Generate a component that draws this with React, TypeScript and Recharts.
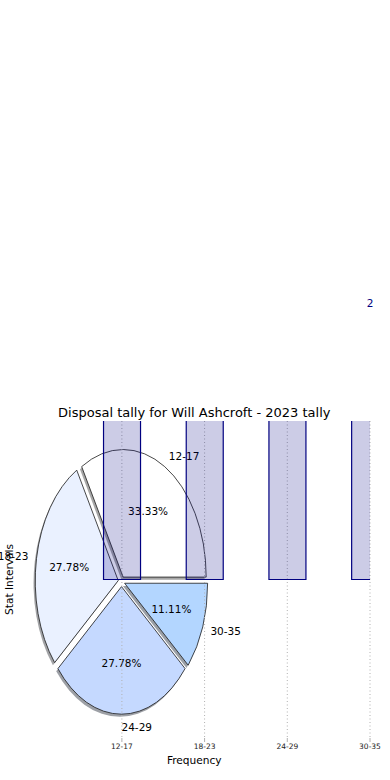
import {
  BarChart,
  Bar,
  XAxis,
  YAxis,
  CartesianGrid,
  LabelList,
  Label,
  PieChart,
  Pie,
  Cell,
} from "recharts";

const CATEGORIES = ["12-17", "18-23", "24-29", "30-35"];
const COUNTS = [6, 5, 5, 2];
const PIE_COLORS = ["#ffffff", "#eaf1ff", "#c5d9ff", "#b3d6ff"];
const X_TICKS = [0, 1, 2, 3];

const barData = CATEGORIES.map((name, i) => ({ pos: i, name, count: COUNTS[i] }));
const pieData = CATEGORIES.map((name, i) => ({ name, value: COUNTS[i] }));

const FONT = "'DejaVu Sans', sans-serif";
const RAD = Math.PI / 180;
// pie shares the bar axes, which have unequal aspect -> it comes out as an ellipse
const Y_STRETCH = 1.537;
const EXPLODE = 0.04;

function explodedCenter(cx: number, cy: number, rx: number, ry: number, mid: number) {
  return [cx + EXPLODE * rx * Math.cos(mid * RAD), cy - EXPLODE * ry * Math.sin(mid * RAD)];
}

function wedgePath(ox: number, oy: number, rx: number, ry: number, a0: number, a1: number) {
  const x0 = ox + rx * Math.cos(a0 * RAD);
  const y0 = oy - ry * Math.sin(a0 * RAD);
  const x1 = ox + rx * Math.cos(a1 * RAD);
  const y1 = oy - ry * Math.sin(a1 * RAD);
  const large = Math.abs(a1 - a0) > 180 ? 1 : 0;
  const sweep = a1 > a0 ? 0 : 1;
  return `M${ox},${oy} L${x0},${y0} A${rx},${ry} 0 ${large} ${sweep} ${x1},${y1} Z`;
}

function darker(hex: string) {
  const n = parseInt(hex.slice(1), 16);
  const r = Math.round(((n >> 16) & 255) * 0.3);
  const g = Math.round(((n >> 8) & 255) * 0.3);
  const b = Math.round((n & 255) * 0.3);
  return `rgb(${r},${g},${b})`;
}

function Wedge(props: any) {
  const { cx, cy, outerRadius, startAngle, endAngle, fill } = props;
  const rx = outerRadius;
  const ry = outerRadius * Y_STRETCH;
  const mid = (startAngle + endAngle) / 2;
  const [ox, oy] = explodedCenter(cx, cy, rx, ry, mid);
  const d = wedgePath(ox, oy, rx, ry, startAngle, endAngle);
  return (
    <g>
      <path d={d} transform="translate(-1.7,2.7)" fill={darker(fill)} fillOpacity={0.5} stroke="none" />
      <path d={d} fill={fill} stroke="#1a1a1a" strokeWidth={0.8} />
    </g>
  );
}

function PieLabel(props: any) {
  const { cx, cy, outerRadius, midAngle, percent, name } = props;
  const rx = outerRadius;
  const ry = outerRadius * Y_STRETCH;
  const [ox, oy] = explodedCenter(cx, cy, rx, ry, midAngle);
  const c = Math.cos(midAngle * RAD);
  const s = Math.sin(midAngle * RAD);
  return (
    <g style={{ fontFamily: FONT, fontSize: 10.5 }}>
      <text
        x={ox + 1.1 * rx * c}
        y={oy - 1.1 * ry * s}
        textAnchor={c > -1e-6 ? "start" : "end"}
        dominantBaseline="central"
        fill="#000"
      >
        {name}
      </text>
      <text
        x={ox + 0.6 * rx * c}
        y={oy - 0.6 * ry * s}
        textAnchor="middle"
        dominantBaseline="central"
        fill="#000"
      >
        {(percent * 100).toFixed(2)}%
      </text>
    </g>
  );
}

export default function App() {
  return (
    <div style={{ position: "absolute", left: 0, top: 0, width: 390, height: 780, background: "#fff" }}>
      <div style={{ position: "absolute", left: 0, top: 0 }}>
        <PieChart width={390} height={780} margin={{ top: 0, right: 0, bottom: 0, left: 0 }}>
          <Pie
            data={pieData}
            dataKey="value"
            nameKey="name"
            cx={121.5}
            cy={581.5}
            outerRadius={83}
            startAngle={0}
            endAngle={360}
            stroke="none"
            shape={Wedge}
            labelLine={false}
            label={PieLabel}
            isAnimationActive={false}
          >
            {pieData.map((d, i) => (
              <Cell key={d.name} fill={PIE_COLORS[i]} />
            ))}
          </Pie>
        </PieChart>
      </div>

      <div style={{ position: "absolute", left: 0, top: 0 }}>
        <BarChart width={390} height={780} data={barData} margin={{ top: 421, right: 20, bottom: 0, left: 0 }}>
          {/* syncWithTicks: no extra line at the left axis end */}
          <CartesianGrid horizontal={false} stroke="#b0b0b0" strokeDasharray="1 2.5" syncWithTicks />
          <XAxis
            type="number"
            dataKey="pos"
            domain={[-1.25, 3]}
            ticks={X_TICKS}
            allowDataOverflow
            tickFormatter={(v: number) => CATEGORIES[v] ?? ""}
            axisLine={false}
            tickLine={{ stroke: "#b0b0b0" }}
            tickSize={4}
            height={42}
            tick={{ fontSize: 7.5, fill: "#222", fontFamily: FONT }}
          >
            <Label value="Frequency" position="insideBottom" offset={16} fill="#000" fontSize={10.6} fontFamily={FONT} />
          </XAxis>
          <YAxis
            type="number"
            domain={[-1.17, 1.17]}
            allowDataOverflow
            width={18.5}
            tick={false}
            axisLine={false}
            tickLine={false}
          >
            <Label value="Stat Intervals" angle={-90} position="center" fill="#000" fontSize={10.6} fontFamily={FONT} />
          </YAxis>
          <Bar
            dataKey="count"
            barSize={37}
            fill="#000080"
            fillOpacity={0.2}
            stroke="#000080"
            strokeWidth={1.2}
            isAnimationActive={false}
          >
            <LabelList dataKey="count" position="top" offset={2} fill="#000080" fontSize={10.5} fontFamily={FONT} />
          </Bar>
        </BarChart>
      </div>

      <div
        style={{
          position: "absolute",
          left: 18.5,
          width: 351.5,
          top: 404,
          textAlign: "center",
          fontFamily: FONT,
          fontSize: 13,
          lineHeight: "18px",
          color: "#000",
          whiteSpace: "nowrap",
        }}
      >
        Disposal tally for Will Ashcroft - 2023 tally
      </div>
    </div>
  );
}
